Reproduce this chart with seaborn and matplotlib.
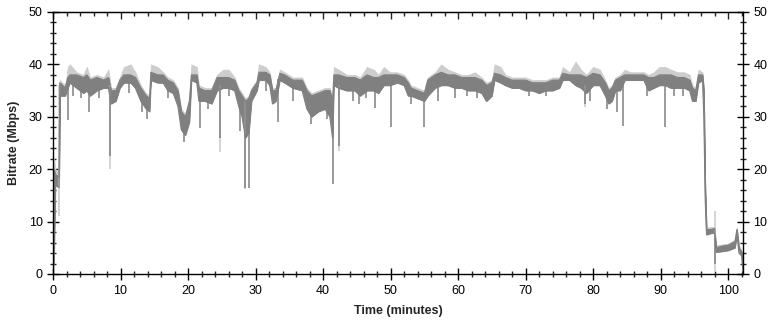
"""
plot.py
-------
Bitrate over time of a video stream (Mbps vs minutes).
Dark band = average bitrate range, light band = peak bitrate.
"""

import numpy as np
import pandas as pd
import matplotlib
matplotlib.use("Agg")
import matplotlib.pyplot as plt
from matplotlib.ticker import MultipleLocator
import seaborn as sns

# values
time_min = [
    0.0, 0.15, 0.35, 0.9, 1.0, 1.8, 2.2, 2.5, 3.5, 4.5, 5.0, 5.5, 6.5, 7.5, 8.2,
    8.6, 9.3, 9.9, 10.5, 11.5, 12.2, 13.0, 13.8, 14.3, 14.5, 15.5, 16.3, 17.0,
    17.8, 18.5, 19.0, 19.6, 20.2, 20.5, 21.3, 21.6, 22.5, 23.5, 24.3, 25.2, 26.0,
    26.9, 27.5, 28.0, 28.5, 29.0, 29.4, 30.2, 30.5, 31.5, 32.1, 32.5, 33.0, 33.6,
    34.3, 35.5, 36.9, 37.6, 38.3, 39.3, 40.3, 41.0, 41.4, 41.6, 42.3, 43.5, 44.7,
    45.5, 46.5, 47.5, 48.2, 49.0, 49.9, 51.0, 52.0, 52.6, 53.0, 54.0, 55.0, 55.5,
    56.6, 57.5, 58.5, 59.5, 60.5, 61.5, 62.5, 63.5, 64.2, 65.0, 65.4, 66.3, 67.0,
    68.0, 69.0, 70.0, 71.0, 72.0, 73.0, 74.0, 75.0, 75.5, 76.5, 77.4, 78.2, 79.0,
    80.0, 81.0, 81.8, 82.3, 82.8, 83.3, 84.0, 84.7, 85.5, 86.5, 87.5, 88.2, 89.0,
    89.8, 90.7, 91.5, 92.5, 93.5, 94.3, 94.7, 95.2, 95.6, 96.2, 96.4, 96.6, 96.8,
    97.5, 98.0, 98.2, 99.0, 100.0, 101.0, 101.3, 101.6, 102.0, 102.2,
]
avg_low = [
    0.5, 3, 17, 16.5, 34, 34, 35.5, 36.5, 35.5, 34.5, 35, 34, 35, 35.5, 35.5,
    32.5, 33, 35.5, 36.5, 36.5, 35.5, 33, 31.5, 31, 37, 36.5, 36.5, 35,
    34.5, 32, 27.5, 26.5, 29, 37, 36.5, 33, 33, 32.5, 35, 35.5, 35.5,
    35, 32, 30, 26, 27, 33, 35, 37, 37, 36, 32.5, 33, 37,
    36.5, 35.5, 35, 31.5, 30, 31, 31.5, 30, 26, 36, 35.5, 35, 35,
    34, 35, 35, 34.5, 36, 36, 36.5, 36, 34, 34, 33.5, 33, 34,
    35.5, 36, 36, 35.5, 35.5, 35, 35, 34.5, 33, 34, 37, 36.5, 36,
    35.5, 35.5, 35, 35, 34.5, 35, 35, 35.5, 37, 37, 36, 35.5, 34.5,
    36, 36, 34, 32.5, 33, 35, 35, 37, 37, 37, 37, 35, 35.5,
    36, 36, 35.5, 35.5, 35.5, 35, 33, 33, 36.5, 37, 30, 14, 7.5,
    7.8, 7.8, 4.2, 4.3, 4.5, 5, 7.5, 4, 3.5, 0.2,
]
avg_high = [
    3, 20, 19, 18.5, 36.5, 35.5, 37.5, 38, 38, 37.5, 38, 37, 37.5, 37, 37.5,
    35, 35, 37, 38, 38, 37.5, 35.5, 34, 33.5, 38.5, 38, 38, 37,
    36.5, 35, 31, 30, 33, 38, 38, 35.5, 35, 35, 37.5, 37.5, 37.5,
    37, 35, 34, 33, 33.5, 35, 36.5, 38.5, 38.5, 38, 35, 35, 38.3,
    38, 37, 37, 35, 34, 34.5, 35, 35, 33, 38, 38, 37.5, 37.5,
    37, 38, 37.5, 37.5, 38, 38, 38, 37.5, 36.5, 35.5, 35, 34.5, 37,
    38, 38.5, 38, 38, 37.5, 37.5, 37.5, 37, 36, 36.5, 38.3, 38, 37.5,
    37, 37, 37, 36.5, 36.5, 36.5, 37, 37, 38.3, 38, 38, 38, 37.5,
    38.3, 38, 36.5, 35, 35.5, 37, 37.5, 38, 38, 38, 38, 37.5, 37.5,
    38, 38, 38, 37.5, 37.5, 37, 35.5, 35, 38, 38, 35, 17, 8.5,
    8.5, 8.7, 5, 5.3, 5.5, 6.2, 8.5, 5, 4.2, 1,
]
peak_high = [
    4, 22, 20, 19.5, 37, 36, 39.5, 40, 38.5, 38, 39.5, 37.5, 38, 37.5, 39,
    35.5, 35.5, 37.5, 39.5, 40, 38.5, 36, 34.5, 34, 40, 39.5, 38.5, 37.5,
    37, 35.5, 31.5, 30.5, 33.5, 40, 39.5, 36, 35.5, 35.5, 38, 39, 39,
    37.5, 35.5, 34.5, 33.5, 34, 35.5, 37, 40, 39.5, 38.5, 35.5, 35.5, 39,
    38.5, 37.5, 37.5, 35.5, 34.5, 35, 35.5, 35.5, 33.5, 39.5, 39, 38, 38,
    37.5, 39.5, 39, 38, 39.5, 38.5, 38.5, 38, 37, 36, 35.5, 35, 37.5,
    38.5, 40, 39, 38.5, 38, 38, 38.5, 37.5, 36.5, 37, 40, 39.5, 38,
    37.5, 37.5, 37.5, 37, 37, 37, 37.5, 37.5, 39.5, 38.5, 40.5, 39, 38,
    39.5, 39, 37, 35.5, 36, 37.5, 38, 39, 38.5, 38.5, 38.5, 38, 38.5,
    39.5, 39.5, 39, 38.5, 38.5, 38, 36, 35.5, 39, 38.5, 35.5, 17, 8.8,
    9, 9, 5.5, 5.6, 5.8, 6.5, 8.8, 5.5, 4.5, 1,
]

# short drops of the average bitrate
dip_time = [2.2, 3.0, 4.2, 5.3, 6.8, 8.5, 11.2, 13.2, 13.9, 17.0, 19.4, 21.8,
            23.0, 24.8, 26.0, 27.7, 28.5, 29.0, 31.5, 33.4, 35.6, 38.2, 39.0,
            40.6, 41.4, 42.4, 44.5, 45.3, 46.3, 47.7, 50.0, 53.0, 55.0, 57.0,
            59.5, 61.3, 62.8, 64.1, 70.5, 73.0, 78.8, 79.6, 82.0, 83.5, 84.5,
            88.0, 90.6, 92.0, 93.3, 98.1]
dip_low = [29.4, 34, 33.5, 31, 33.5, 22.5, 34.5, 31, 29.5, 33.5, 25.2, 27.8,
           31.5, 26, 34, 27.3, 16.5, 16.5, 35, 29, 33, 28.6, 31,
           29.5, 17.1, 24.5, 33, 32.5, 33.5, 31.6, 28.1, 32.5, 28, 33,
           33.5, 34, 33.5, 33, 34, 34, 32.5, 33, 31.5, 31, 28.2,
           34, 28, 34, 34, 2]
# short drops / jumps of the peak bitrate
peak_dip_time = [0.95, 8.5, 24.8, 28.4, 42.4, 78.8, 98.1]
peak_dip_low = [11, 20, 23.3, 16.2, 23.4, 31.8, 0.4]
peak_dip_high = [36, 36, 36, 33, 36, 36, 12]

DARK = "#808080"
LIGHT = "#cdcdcd"

df = pd.DataFrame({"time": time_min, "low": avg_low,
                   "high": avg_high, "peak": peak_high})

sns.set_style("ticks")
plt.rcParams["font.family"] = ["Liberation Sans", "DejaVu Sans"]

fig = plt.figure(figsize=(7.76, 3.24), dpi=100)
ax = fig.add_axes([53 / 776, 1 - 274 / 324, 690 / 776, 262 / 324])

# peak band (light) behind the average band (dark)
ax.fill_between(df["time"], df["high"], df["peak"], color=LIGHT, lw=0.6,
                edgecolor=LIGHT)
ax.vlines(peak_dip_time, peak_dip_low, peak_dip_high, color=LIGHT, lw=1.2)
ax.fill_between(df["time"], df["low"], df["high"], color=DARK, lw=0.6,
                edgecolor=DARK)
sns.lineplot(data=df, x="time", y="low", color=DARK, lw=0.8, ax=ax)
sns.lineplot(data=df, x="time", y="high", color=DARK, lw=0.8, ax=ax)
dip_top = np.interp(dip_time, df["time"], df["high"])
ax.vlines(dip_time, dip_low, dip_top, color=DARK, lw=1.1)

ax.set_xlim(0, 102.2)
ax.set_ylim(0, 50)
ax.xaxis.set_major_locator(MultipleLocator(10))
ax.xaxis.set_minor_locator(MultipleLocator(2))
ax.yaxis.set_major_locator(MultipleLocator(10))
ax.yaxis.set_minor_locator(MultipleLocator(2))

ax.tick_params(axis="both", which="major", direction="inout", length=8,
               width=1, labelsize=9, colors="black")
ax.tick_params(axis="both", which="minor", direction="inout", length=4,
               width=1)
ax.tick_params(axis="y", which="both", left=True, right=True,
               labelleft=True, labelright=True)
ax.tick_params(axis="x", which="both", bottom=True, top=False, pad=4)

top = ax.secondary_xaxis("top")
top.xaxis.set_major_locator(MultipleLocator(10))
top.xaxis.set_minor_locator(MultipleLocator(2))
top.tick_params(which="major", direction="in", length=5, width=1,
                labeltop=False)
top.tick_params(which="minor", direction="in", length=3, width=1)

for s in ax.spines.values():
    s.set_visible(True)
    s.set_linewidth(1)
    s.set_color("black")

ax.set_xlabel("Time (minutes)", fontsize=9, fontweight="bold", labelpad=6)
ax.set_ylabel("Bitrate (Mbps)", fontsize=9, fontweight="bold", labelpad=6)

fig.savefig("out.png", dpi=100)
plt.close(fig)
